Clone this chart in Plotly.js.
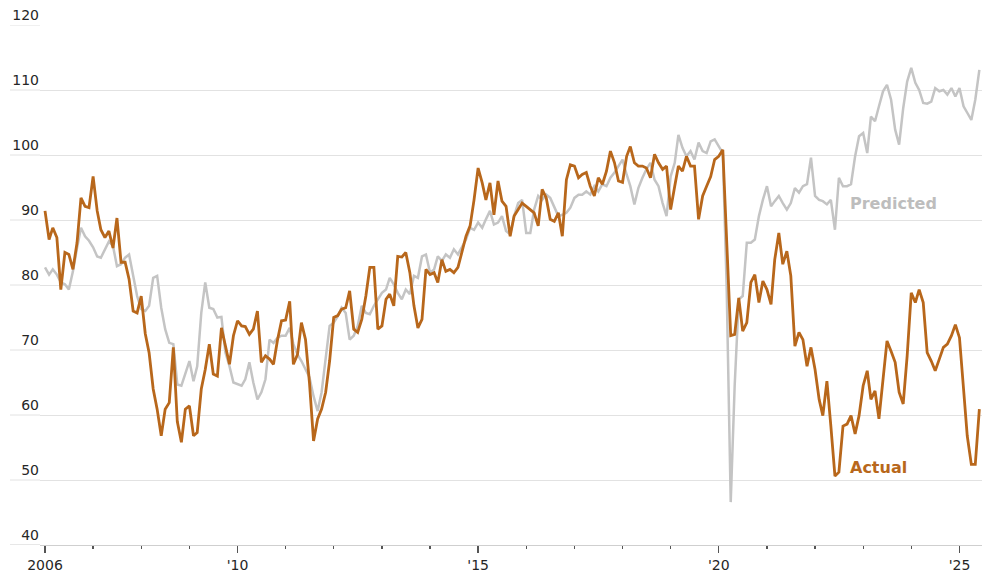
<!DOCTYPE html>
<html>
<head>
<meta charset="utf-8">
<script src="https://cdn.plot.ly/plotly-3.0.1.min.js"></script>
<style>
  html, body { margin: 0; padding: 0; background: #ffffff; }
  #chart { width: 982px; height: 578px; }
</style>
</head>
<body>
<div id="chart"></div>
<script>
// Monthly series, January 2006 through June 2025 (one row per year)
const startYear = 2006;

const actual = [
  91.4, 87.0, 88.8, 87.3, 79.3, 85.0, 84.7, 82.4, 86.5, 93.4, 92.1, 91.9,
  96.7, 91.4, 88.5, 87.3, 88.3, 85.7, 90.3, 83.5, 83.5, 80.9, 76.0, 75.7,
  78.3, 72.5, 69.6, 64.0, 60.9, 56.8, 60.9, 61.9, 70.4, 59.0, 55.8, 60.9,
  61.4, 56.8, 57.3, 64.0, 67.0, 70.9, 66.3, 66.0, 73.4, 70.6, 67.8, 72.2,
  74.5, 73.7, 73.6, 72.4, 73.2, 76.0, 68.1, 69.1, 68.6, 67.8, 71.6, 74.5,
  74.6, 77.5, 67.8, 69.3, 74.2, 71.6, 65.0, 56.0, 59.4, 60.9, 63.5, 68.3,
  75.0, 75.3, 76.3, 76.5, 79.1, 73.2, 72.7, 74.7, 78.3, 82.7, 82.7, 73.2,
  73.7, 77.8, 78.6, 76.8, 84.4, 84.3, 85.0, 81.9, 76.8, 73.4, 74.7, 82.4,
  81.6, 81.9, 80.4, 83.9, 82.1, 82.4, 81.9, 82.7, 85.0, 87.5, 89.1, 93.1,
  98.0, 95.7, 93.1, 95.7, 90.8, 96.0, 92.9, 92.1, 87.5, 90.6, 91.6, 92.6,
  92.1, 91.6, 91.1, 89.1, 94.7, 93.4, 90.1, 89.8, 91.1, 87.5, 96.2, 98.5,
  98.3, 96.5, 97.0, 97.3, 95.2, 93.7, 96.5, 95.5, 97.5, 100.6, 98.8, 96.0,
  95.8, 99.8, 101.3, 98.8, 98.3, 98.3, 98.0, 96.5, 100.1, 98.8, 97.8, 98.3,
  91.6, 95.2, 98.3, 97.5, 99.8, 98.3, 98.3, 90.1, 93.7, 95.2, 96.7, 99.3,
  99.8, 100.8, 87.0, 72.2, 72.4, 78.0, 72.9, 74.2, 80.4, 81.6, 77.3, 80.6,
  79.3, 77.0, 83.9, 88.0, 83.2, 85.2, 81.4, 70.6, 72.7, 71.6, 67.5, 70.4,
  67.0, 62.4, 59.9, 65.2, 58.3, 50.6, 51.2, 58.3, 58.6, 59.9, 57.1, 59.9,
  64.5, 66.8, 62.4, 63.7, 59.4, 65.0, 71.4, 69.8, 68.1, 63.5, 61.7, 69.1,
  78.8, 77.3, 79.3, 77.3, 69.6, 68.3, 66.8, 68.6, 70.4, 70.9, 72.2, 73.9,
  71.9, 64.0, 56.8, 52.4, 52.4, 60.9
];

const predicted = [
  82.7, 81.6, 82.4, 81.6, 80.4, 80.1, 79.3, 82.1, 85.7, 88.8, 87.5, 86.8,
  85.8, 84.4, 84.2, 85.5, 86.7, 86.0, 82.9, 83.2, 84.2, 84.7, 81.4, 78.3,
  76.3, 76.0, 76.8, 81.1, 81.4, 76.5, 73.2, 71.1, 70.9, 64.7, 64.5, 66.5,
  68.3, 65.2, 67.5, 75.7, 80.4, 76.5, 76.3, 75.0, 75.1, 69.6, 67.5, 65.0,
  64.7, 64.5, 65.5, 68.1, 65.0, 62.4, 63.5, 65.5, 71.6, 71.1, 71.9, 72.2,
  72.2, 73.4, 70.9, 69.3, 68.3, 67.0, 65.8, 62.9, 60.6, 63.5, 69.1, 73.7,
  74.2, 75.2, 76.5, 75.7, 71.6, 72.2, 73.7, 76.8, 75.7, 75.5, 76.8, 77.8,
  78.8, 79.3, 81.1, 80.1, 78.8, 77.8, 79.3, 78.6, 81.4, 81.1, 84.4, 84.7,
  81.9, 82.4, 84.4, 83.7, 84.7, 84.2, 85.5, 84.7, 86.0, 87.0, 88.8, 88.5,
  89.6, 88.8, 90.1, 91.4, 89.3, 89.6, 90.6, 88.3, 87.8, 90.6, 92.6, 93.1,
  88.0, 88.0, 91.6, 93.7, 93.1, 93.9, 93.4, 91.9, 90.6, 90.8, 91.1, 91.9,
  93.4, 93.9, 93.9, 94.4, 93.9, 95.2, 94.4, 95.5, 95.2, 96.5, 97.3, 98.3,
  99.3, 97.0, 95.2, 92.4, 94.9, 96.5, 97.8, 98.8, 96.2, 95.2, 92.6, 90.6,
  96.7, 98.8, 103.1, 101.1, 99.8, 100.6, 99.3, 101.9, 100.6, 100.3, 102.1, 102.4,
  101.3, 100.3, 79.8, 46.6, 64.5, 77.8, 78.3, 86.5, 86.5, 87.0, 90.6, 93.1,
  95.2, 92.1, 92.9, 93.7, 92.6, 91.6, 92.6, 94.9, 94.2, 95.2, 95.5, 99.6,
  93.7, 93.1, 92.9, 92.4, 93.1, 88.5, 96.5, 95.2, 95.2, 95.5, 99.8, 102.9,
  103.4, 100.3, 105.9, 105.2, 107.5, 109.8, 110.8, 108.5, 103.9, 101.6, 107.2, 111.3,
  113.4, 111.1, 110.0, 108.0, 107.9, 108.2, 110.3, 109.8, 110.0, 109.3, 110.3, 109.0,
  110.3, 107.5, 106.5, 105.4, 108.5, 113.1
];

const xTickVals = ['2006-01-01', '2010-01-01', '2015-01-01', '2020-01-01', '2025-01-01'];
const xTickText = ['2006', "'10", "'15", "'20", "'25"];
const yTickVals = [40, 50, 60, 70, 80, 90, 100, 110, 120];
const seriesLabels = ['Predicted', 'Actual'];

// Month dates for each value
function monthDate(i) {
  const y = startYear + Math.floor(i / 12);
  const m = (i % 12) + 1;
  return y + '-' + (m < 10 ? '0' + m : m) + '-01';
}
const datesA = actual.map((_, i) => monthDate(i));
const datesP = predicted.map((_, i) => monthDate(i));

const colActual = '#b8671b';
const colPred = '#c4c4c4';
const gridCol = '#e2e2e2';
const tickFont = { family: 'DejaVu Sans, Verdana, sans-serif', size: 14, color: '#262626' };

const traces = [
  {
    x: datesP, y: predicted, type: 'scatter', mode: 'lines', name: seriesLabels[0],
    line: { color: colPred, width: 2.5 }, hoverinfo: 'skip'
  },
  {
    x: datesA, y: actual, type: 'scatter', mode: 'lines', name: seriesLabels[1],
    line: { color: colActual, width: 2.8 }, hoverinfo: 'skip'
  }
];

// extend horizontal gridlines to the left of the plot area (style only)
const gridShapes = yTickVals.map(v => ({
  type: 'line', xref: 'paper', yref: 'y', x0: -30 / 942, x1: 0, y0: v, y1: v,
  line: { color: v === 40 ? '#cfcfcf' : gridCol, width: 1 }, layer: 'below'
}));

const layout = {
  width: 982, height: 578,
  margin: { l: 40, r: 0, t: 25, b: 33 },
  paper_bgcolor: '#ffffff', plot_bgcolor: '#ffffff',
  showlegend: false,
  xaxis: {
    type: 'date',
    range: ['2005-11-24', '2025-06-21'],
    tickmode: 'array', tickvals: xTickVals, ticktext: xTickText,
    ticks: 'outside', ticklen: 7, tickwidth: 1.3, tickcolor: '#555555',
    tickfont: tickFont,
    showgrid: false, zeroline: false,
    showline: true, linecolor: '#cfcfcf', linewidth: 1,
    minor: { tickmode: 'linear', tick0: '2006-01-01', dtick: 'M12', ticks: 'outside', ticklen: 3, tickwidth: 1.3, tickcolor: '#555555', showgrid: false }
  },
  yaxis: {
    range: [40, 120],
    tickmode: 'array', tickvals: yTickVals,
    ticklabelposition: 'outside top',
    ticks: '', tickfont: tickFont,
    showgrid: true, gridcolor: gridCol, gridwidth: 1,
    zeroline: false, showline: false
  },
  shapes: gridShapes,
  annotations: [
    {
      x: '2022-09-07', y: 92.5, xref: 'x', yref: 'y', text: '<b>' + seriesLabels[0] + '</b>',
      showarrow: false, xanchor: 'left', yanchor: 'middle',
      font: { family: 'DejaVu Sans, sans-serif', size: 16, color: '#bdbdbd' }
    },
    {
      x: '2022-09-07', y: 51.9, xref: 'x', yref: 'y', text: '<b>' + seriesLabels[1] + '</b>',
      showarrow: false, xanchor: 'left', yanchor: 'middle',
      font: { family: 'DejaVu Sans, sans-serif', size: 16, color: colActual }
    }
  ]
};

Plotly.newPlot('chart', traces, layout, { displayModeBar: false, staticPlot: true });
</script>
</body>
</html>
